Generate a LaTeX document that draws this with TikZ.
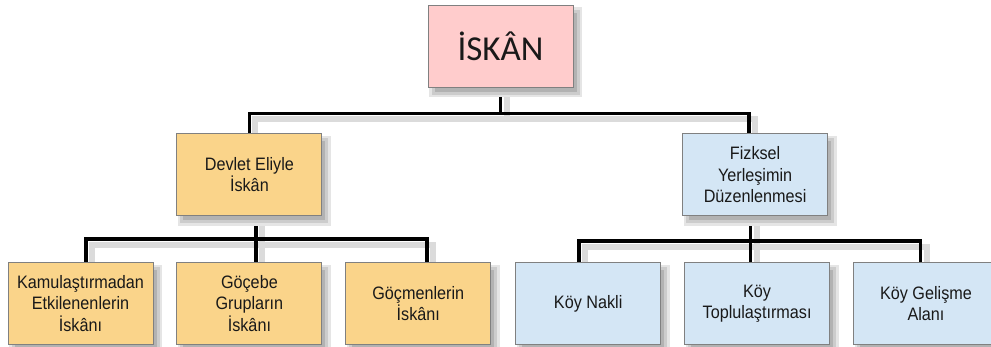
\documentclass[tikz,border=0pt]{standalone}
\usepackage{fontspec}
\setmainfont{Liberation Sans}
\newfontfamily\darfont[FakeStretch=0.9]{Liberation Sans}
\newfontfamily\baslikfont{Carlito}
\usetikzlibrary{positioning, backgrounds}
\definecolor{pembe}{RGB}{255,204,204}
\definecolor{turuncu}{RGB}{250,212,138}
\definecolor{mavi}{RGB}{212,230,245}
\definecolor{kenar}{RGB}{128,128,128}
\tikzset{node distance=23pt,
    kutu/.style={draw=kenar, line width=0.9pt, minimum width=145pt, minimum height=82pt,
        inner sep=0pt, align=center, text=black!90, font=\darfont\fontsize{18}{21.5}\selectfont,
        preaction={fill=black!10, draw=black!10, line width=8pt, transform canvas={xshift=5pt, yshift=-6pt}},
        preaction={fill=black!30, draw=black!20, line width=3pt, transform canvas={xshift=5pt, yshift=-6pt}}},
    anakutu/.style={kutu, fill=pembe, font=\baslikfont\fontsize{35}{40}\selectfont},
    turuncukutu/.style={kutu, fill=turuncu},
    mavikutu/.style={kutu, fill=mavi},
    baglanti/.style={line width=3.6pt, black},
    golge/.style={line width=6pt, black!14}}

\begin{document}
\begin{tikzpicture}[x=1pt, y=1pt]
    \useasboundingbox (0,0) rectangle (991,-346);
    % alt sira
    \node[turuncukutu] (kamu) at (80.5,-303.5) {Kamulaştırmadan\\Etkilenenlerin\\İskânı};
    \node[turuncukutu, right=of kamu] (gocebe) {Göçebe\\Grupların\\İskânı};
    \node[turuncukutu, right=of gocebe] (gocmen) {Göçmenlerin\\İskânı};
    \node[mavikutu, right=24pt of gocmen] (nakil) {Köy Nakli};
    \node[mavikutu, right=of nakil] (toplu) {Köy\\Toplulaştırması};
    \node[mavikutu, right=of toplu] (gelisme) {Köy Gelişme\\Alanı};
    % orta sira
    \node[turuncukutu, above=46pt of gocebe] (devlet) {Devlet Eliyle\\İskân};
    \node[mavikutu, above=46pt of toplu, xshift=-2pt] (fiziksel) {Fizksel\\Yerleşimin\\Düzenlenmesi};
    % ust
    \node[anakutu] (iskan) at (500.5,-46) {İSKÂN};

    \begin{scope}[on background layer]
    \foreach \stil/\dx/\dy in {golge/6pt/-6pt, baglanti/0pt/0pt} {
        \begin{scope}[\stil, transform canvas={xshift=\dx, yshift=\dy}]
            \draw (iskan.south) -- ++(0,-26) coordinate (ust);
            \draw (ust) -| (devlet.north) (ust) -| ([xshift=-6pt]fiziksel.north);
            \draw ([xshift=6.5pt]devlet.south) -- ++(0,-23) coordinate (sol);
            \draw (sol) -| ([xshift=5.5pt]kamu.north) (sol) -- ([xshift=6.5pt]gocebe.north)
                (sol) -| ([xshift=8.5pt]gocmen.north);
            \draw ([xshift=-4.5pt]fiziksel.south) -- ++(0,-25) coordinate (sag);
            \draw (sag) -| ([xshift=-9.5pt]nakil.north) (sag) -- ([xshift=-6.5pt]toplu.north)
                (sag) -| ([xshift=-5.5pt]gelisme.north);
        \end{scope}
    }
    \end{scope}
\end{tikzpicture}
\end{document}
